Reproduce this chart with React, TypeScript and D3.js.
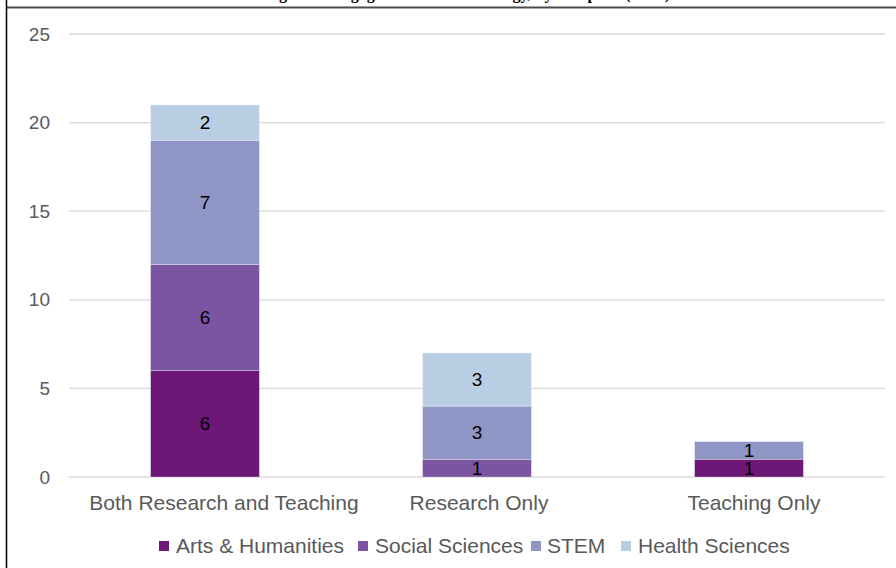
import React from "react";
import * as d3 from "d3";

const categories = ["Both Research and Teaching", "Research Only", "Teaching Only"];
const seriesNames = ["Arts & Humanities", "Social Sciences", "STEM", "Health Sciences"];
const artsHumanities = [6, 0, 1];
const socialSciences = [6, 1, 0];
const stem = [7, 3, 1];
const healthSciences = [2, 3, 0];
const yTicks = [0, 5, 10, 15, 20, 25];
const colors = ["#6d1876", "#7b55a2", "#8f95c4", "#bacee3"];
const title = "Figure 2: Engagement with technology, by discipline (n=30)";

const W = 896, H = 568;
const plotLeft = 69, plotRight = 885, plotTop = 34, plotBottom = 477;
const FONT = "'Liberation Sans', Arial, Helvetica, sans-serif";
const labelShift = [19, 2, 5];

export default function App() {
  const rows = categories.map((c, i) => ({
    cat: c,
    [seriesNames[0]]: artsHumanities[i],
    [seriesNames[1]]: socialSciences[i],
    [seriesNames[2]]: stem[i],
    [seriesNames[3]]: healthSciences[i],
  }));
  const stacked = d3.stack<any>().keys(seriesNames)(rows);
  const x = d3.scaleBand<string>().domain(categories).range([plotLeft, plotRight]).paddingInner(0.6).paddingOuter(0.3);
  const y = d3.scaleLinear().domain([0, 25]).range([plotBottom, plotTop]);

  const legendItems = [
    { sq: 159, tx: 176 },
    { sq: 358, tx: 375 },
    { sq: 531, tx: 547 },
    { sq: 621, tx: 638 },
  ];

  return (
    <svg width={W} height={H} style={{ position: "absolute", left: 0, top: 0, background: "#fff" }}>
      <rect x={0} y={0} width={W} height={H} fill="#fff" />
      <text x={670} y={-1.5} textAnchor="end" fontFamily="'Liberation Serif', 'Times New Roman', serif" fontWeight="bold" fontSize={16} fill="#000">{title}</text>
      <line x1={6} x2={W} y1={7.5} y2={7.5} stroke="#4a4a4a" strokeWidth={2} />
      <line x1={6.5} x2={6.5} y1={0} y2={H} stroke="#000" strokeWidth={1.5} />
      {yTicks.map((t) => (
        <g key={t}>
          <line x1={plotLeft} x2={plotRight} y1={y(t)} y2={y(t)} stroke="#d9d9d9" strokeWidth={1.3} />
          <text x={50} y={y(t)} dy="0.35em" textAnchor="end" fontFamily={FONT} fontSize={19} fill="#595959">{t}</text>
        </g>
      ))}
      {stacked.map((s, si) => (
        <g key={s.key}>
          {s.map((d, i) => {
            const v = d[1] - d[0];
            if (v <= 0) return null;
            const bx = x(categories[i])!;
            return (
              <g key={i}>
                <rect x={bx} y={y(d[1])} width={x.bandwidth()} height={y(d[0]) - y(d[1])} fill={colors[si]} stroke="#ffffff" strokeOpacity={0.5} strokeWidth={0.6} />
                <text x={bx + x.bandwidth() / 2} y={(y(d[0]) + y(d[1])) / 2} dy="0.35em" textAnchor="middle" fontFamily={FONT} fontSize={19} fill="#000">{v}</text>
              </g>
            );
          })}
        </g>
      ))}
      {categories.map((c, i) => (
        <text key={c} x={x(c)! + x.bandwidth() / 2 + labelShift[i]} y={503} dy="0.35em" textAnchor="middle" fontFamily={FONT} fontSize={21} fill="#595959">{c}</text>
      ))}
      {seriesNames.map((n, i) => (
        <g key={n}>
          <rect x={legendItems[i].sq} y={541} width={10} height={10} fill={colors[i]} />
          <text x={legendItems[i].tx} y={546} dy="0.35em" fontFamily={FONT} fontSize={21} fill="#595959">{n}</text>
        </g>
      ))}
    </svg>
  );
}
